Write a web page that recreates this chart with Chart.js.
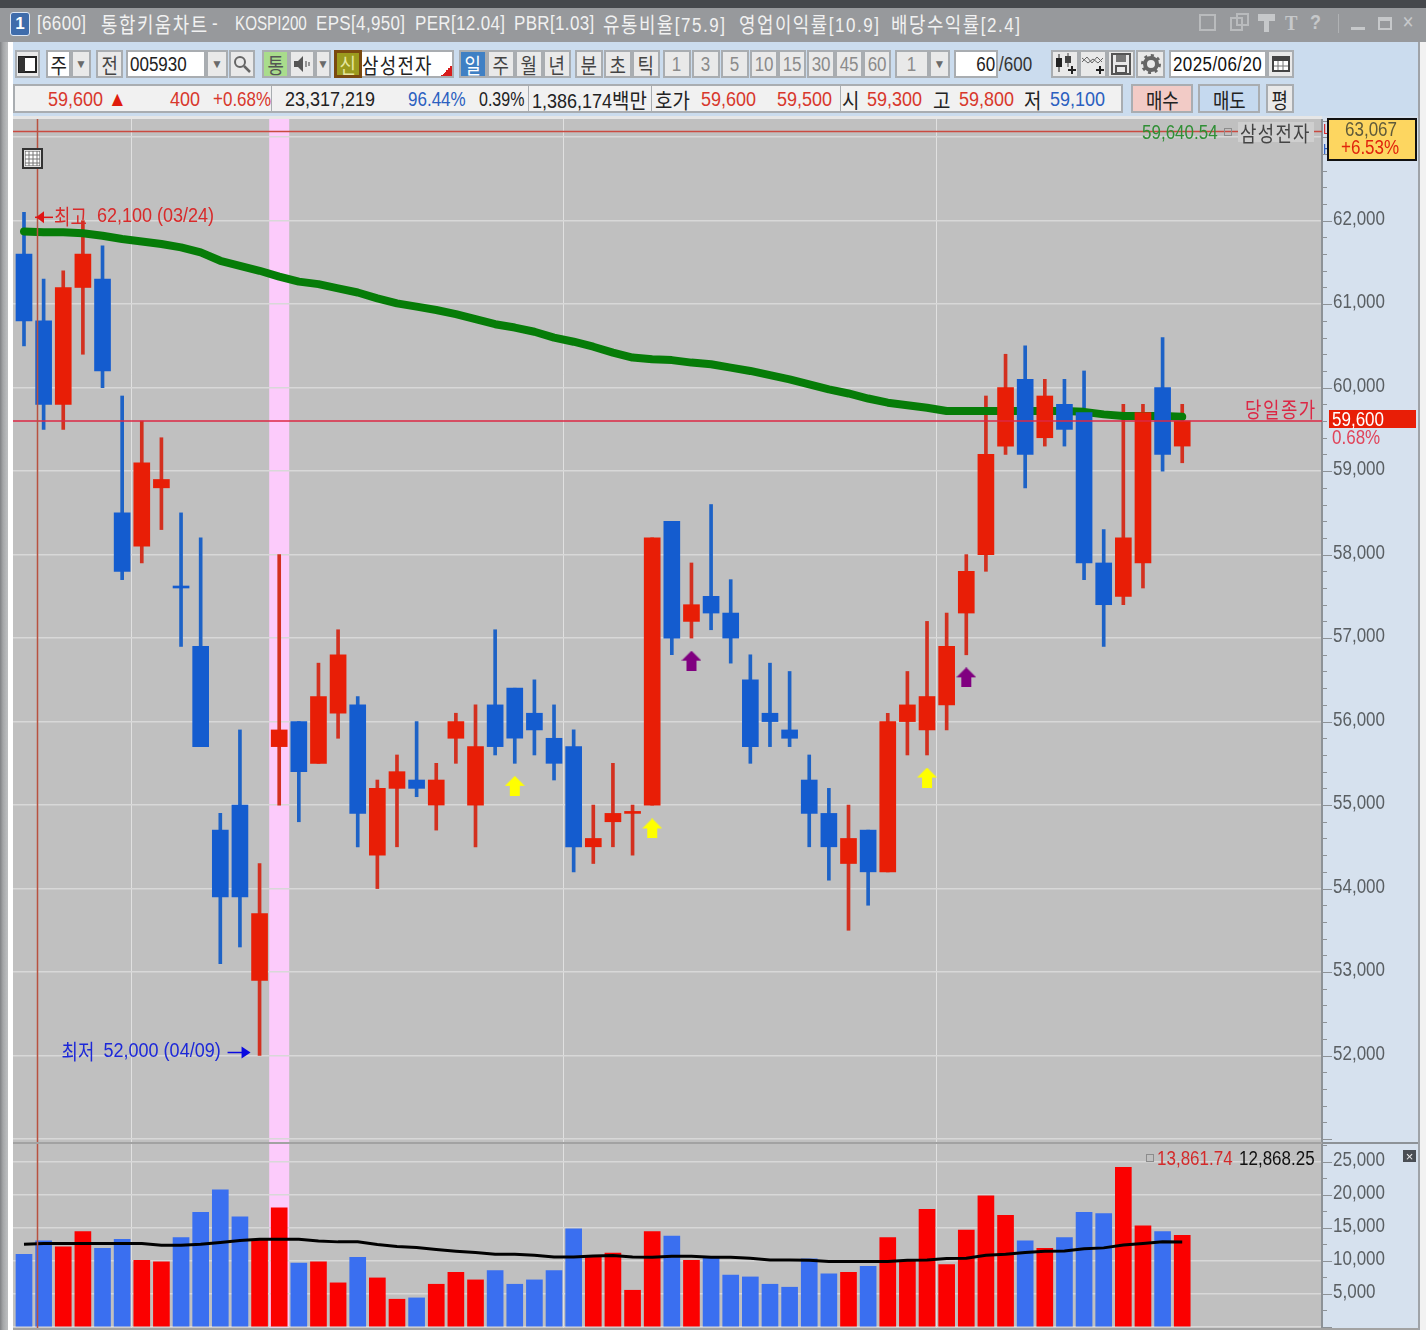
<!DOCTYPE html>
<html>
<head>
<meta charset="utf-8">
<title>삼성전자 통합키움차트</title>
<script src="https://cdn.jsdelivr.net/npm/chart.js@4/dist/chart.umd.min.js"></script>
<style>
  html, body { margin: 0; padding: 0; }
  body { width: 1426px; height: 1330px; position: relative; overflow: hidden; background: #cbdcee; font-family: 'Liberation Sans', 'Noto Sans CJK KR', sans-serif; }
  canvas { position: absolute; display: block; }
  #ui div, #ui svg { position: absolute; }
  .t { white-space: nowrap; font-size: 20px; line-height: 24px; transform: translateY(-12px) scaleX(.85); transform-origin: left center; }
  .ko { font-family: 'Noto Sans CJK KR', sans-serif; font-size: 21px; }
  .b { box-sizing: border-box; display: flex; align-items: center; justify-content: center; white-space: nowrap; font-size: 20px; color: #444; background: #e9e9e9; border: 2px solid #a9adb1; }
  .sq { display: inline-block; transform: scaleX(.85); }
  .w { background: #fff; color: #222; }
  .faint { color: #8b8b8b; }
</style>
</head>
<body>
<div id="ui-back"></div>
<canvas id="price-chart" width="1405" height="1023" style="left:13px;top:119px"></canvas>
<canvas id="volume-chart" width="1405" height="184" style="left:13px;top:1144px"></canvas>
<div id="ui"></div>
<script>
// trading days shown, 2025/03/24 to 2025/06/20
const dates = ['03/24','03/25','03/26','03/27','03/28','03/31','04/01','04/02','04/03','04/04','04/07','04/08','04/09','04/10','04/11','04/14','04/15','04/16','04/17','04/18','04/21','04/22','04/23','04/24','04/25','04/28','04/29','04/30','05/02','05/07','05/08','05/09','05/12','05/13','05/14','05/15','05/16','05/19','05/20','05/21','05/22','05/23','05/26','05/27','05/28','05/29','05/30','06/02','06/04','06/05','06/09','06/10','06/11','06/12','06/13','06/16','06/17','06/18','06/19','06/20'];

const opens = [61600,60800,59800,61200,61300,58500,58100,58800,57600,56900,54700,55000,52900,55700,56000,55500,56100,56200,54400,55200,55300,55000,55800,55000,56200,56400,56100,55800,55700,54500,54800,54900,55000,58400,57200,57500,57300,56500,56100,55900,55300,54900,54300,54700,54200,56000,55900,56200,57300,58000,59300,60100,59400,59800,59700,57900,57500,57900,60000,59300];
const highs = [62100,61300,61400,62000,61700,59900,59600,59400,58500,58200,54900,55900,54300,58000,56000,56700,57100,56300,55300,55600,56000,55500,56100,56200,57100,56400,56500,56200,55900,55000,55500,55000,58200,58400,57900,58600,57700,56800,56700,56600,55600,55200,55000,54700,56100,56600,57200,57300,58000,59900,60400,60500,60100,60100,60200,58300,59800,59800,60600,59800];
const lows = [60500,59500,59500,60400,60000,57700,57900,58300,56900,55700,53100,53300,52000,55000,54800,55500,55800,54500,54000,54500,55100,54700,55500,54500,55600,55500,55600,55300,54200,54300,54500,54400,55000,56800,57000,57100,56700,55500,55700,55700,54500,54100,53500,53800,54200,55600,55600,55900,56800,57800,59200,58800,59300,59300,57700,56900,57400,57600,59000,59100];
const closes = [60800,59800,61200,61600,60200,57800,59100,58900,57600,55700,53900,53900,53700,55900,55400,56300,56800,54900,55200,55400,55200,55300,56000,55700,55700,55800,55900,55500,54500,54600,54900,54900,58200,57000,57400,57300,57000,55700,56000,55800,54900,54500,54600,54200,56000,56200,56300,56900,57800,59200,60000,59200,59900,59500,57900,57400,58200,59700,59200,59600];
const priceMa = [61870,61860,61860,61850,61820,61780,61750,61720,61680,61620,61520,61460,61400,61330,61270,61240,61190,61140,61070,61010,60970,60930,60880,60820,60760,60720,60670,60600,60550,60490,60420,60360,60340,60330,60300,60280,60240,60200,60150,60100,60040,59980,59930,59870,59820,59790,59760,59720,59720,59720,59720,59720,59720,59720,59710,59680,59660,59660,59660,59650];
const volumes = [11000,13030,12120,14440,11900,13280,10100,9850,13530,17370,20750,16660,13280,18030,9650,9850,6670,10550,7420,4190,4390,6460,8280,7120,8530,6460,7120,8530,14850,10750,11200,5550,14440,13740,10100,10400,7830,7570,6460,6010,10300,8030,8280,9190,13530,10000,17830,9440,14650,19850,16920,13030,11900,13530,17370,17170,24190,15300,14440,13862];
const volumeMa = [12520,12625,12625,12625,12625,12625,12625,12370,12370,12520,12780,13080,13280,13280,13280,13030,12880,12880,12470,12170,12020,11720,11460,11260,11010,11010,10860,10600,10600,10750,10800,10600,10550,10700,10700,10550,10550,10400,10150,10150,10100,9900,9900,9900,9900,10100,10150,10350,10400,10860,11010,11260,11460,11510,11820,11970,12420,12625,12880,12868];

const dojiDown = [8];            // open == close days painted blue
const highlightDay = 13;         // pink band
const cursorDay = 0.66;          // thin red vertical
const monthBreaks = [5.5, 27.5, 46.5];
const closeLine = 59600;
const topLine = 63067;
const yellowDays = [25, 32, 46];
const yellowPrices = [55230, 54720, 55330];
const purpleDays = [34, 48];
const purplePrices = [56730, 56530];

const RED = '#e81e06', BLUE = '#145ccf', WICK_RED = '#d3301f', WICK_BLUE = '#1d62c6';
const VOL_RED = '#fb0000', VOL_BLUE = '#3a6ff0';
const LATIN = "'Liberation Sans', sans-serif";
const KO = "'Noto Sans CJK KR', sans-serif";
const SQUEEZE = 0.85;   // the screenshot's type is tall and narrow

const isUp = i => closes[i] > opens[i] || (closes[i] === opens[i] && !dojiDown.includes(i));
const fmt = v => v.toLocaleString('en-US');

function arrowImage(color) {
  const c = document.createElement('canvas');
  c.width = 20; c.height = 20;
  const g = c.getContext('2d');
  g.fillStyle = color;
  g.beginPath();
  [[10,0],[20,10],[15,10],[15,20],[5,20],[5,10],[0,10]].forEach(p => g.lineTo(p[0], p[1]));
  g.closePath();
  g.fill();
  return c;
}

function narrowText(ctx, s, x, y, squeeze) {
  ctx.save();
  ctx.translate(x, y);
  ctx.scale(squeeze || SQUEEZE, 1);
  ctx.fillText(s, 0, 0);
  ctx.restore();
}

// plot background + band + cursor, shared by both panes
const paneBack = {
  id: 'paneBack',
  beforeDraw(chart) {
    const { ctx, chartArea: a, scales: { x } } = chart;
    ctx.save();
    ctx.fillStyle = '#c0c0c0';
    ctx.fillRect(a.left, a.top, a.right - a.left, a.bottom - a.top);
    ctx.fillStyle = '#fccbfb';
    const mid = x.getPixelForValue(highlightDay);
    ctx.fillRect(mid - 10, a.top, 20, a.bottom - a.top);
    ctx.restore();
  },
  afterDatasetsDraw(chart) {
    const { ctx, chartArea: a, scales: { x } } = chart;
    const px = Math.round(x.getPixelForValue(cursorDay)) + 0.5;
    ctx.save();
    ctx.strokeStyle = '#b85240';
    ctx.lineWidth = 1.5;
    ctx.beginPath();
    ctx.moveTo(px, a.top);
    ctx.lineTo(px, a.bottom);
    ctx.stroke();
    ctx.restore();
  }
};

// right axis: short ticks, longer labelled ones, narrow labels
const axisTicks = {
  id: 'axisTicks',
  afterDraw(chart, args, opts) {
    const { ctx, chartArea: a, scales: { y } } = chart;
    ctx.save();
    ctx.strokeStyle = '#8d9297';
    ctx.fillStyle = '#5a5f63';
    ctx.lineWidth = 1;
    ctx.font = '20px ' + LATIN;
    ctx.textBaseline = 'middle';
    y.ticks.forEach(t => {
      const major = t.value % opts.major === 0;
      const p = Math.round(y.getPixelForValue(t.value)) + 0.5;
      ctx.beginPath();
      ctx.moveTo(a.right, p);
      ctx.lineTo(a.right + (major ? 10 : 5), p);
      ctx.stroke();
      if (major && p < a.bottom - 12) narrowText(ctx, fmt(t.value), a.right + 11, p - 2);
    });
    ctx.restore();
  }
};

// high / low arrows with their text
const extremes = {
  id: 'extremes',
  afterDatasetsDraw(chart) {
    const { ctx, scales: { x, y } } = chart;
    const hi = Math.max(...highs), lo = Math.min(...lows);
    const hx = x.getPixelForValue(highs.indexOf(hi)), hy = y.getPixelForValue(hi) + 5;
    const lx = x.getPixelForValue(lows.indexOf(lo)), ly = y.getPixelForValue(lo) - 3;
    ctx.save();
    ctx.textBaseline = 'middle';

    ctx.strokeStyle = ctx.fillStyle = '#e01414';
    ctx.lineWidth = 1.5;
    ctx.beginPath(); ctx.moveTo(hx + 11, hy); ctx.lineTo(hx + 29, hy); ctx.stroke();
    ctx.beginPath(); ctx.moveTo(hx + 12, hy); ctx.lineTo(hx + 20, hy - 6); ctx.lineTo(hx + 20, hy + 6); ctx.closePath(); ctx.fill();
    ctx.fillStyle = '#d82a2a';
    ctx.font = '21px ' + KO;
    narrowText(ctx, '최고', hx + 30, hy - 1);
    ctx.font = '20px ' + LATIN;
    narrowText(ctx, fmt(hi) + ' (' + dates[highs.indexOf(hi)] + ')', hx + 73, hy - 1, 0.9);

    ctx.strokeStyle = ctx.fillStyle = '#0a0ae0';
    ctx.beginPath(); ctx.moveTo(lx - 32, ly); ctx.lineTo(lx - 12, ly); ctx.stroke();
    ctx.beginPath(); ctx.moveTo(lx - 9, ly); ctx.lineTo(lx - 18, ly - 6); ctx.lineTo(lx - 18, ly + 6); ctx.closePath(); ctx.fill();
    ctx.fillStyle = '#1c28d8';
    ctx.font = '21px ' + KO;
    narrowText(ctx, '최저', lx - 198, ly - 1);
    ctx.font = '20px ' + LATIN;
    narrowText(ctx, fmt(lo) + ' (' + dates[lows.indexOf(lo)] + ')', lx - 156, ly - 1, 0.9);
    ctx.restore();
  }
};

function xScale() {
  return {
    type: 'linear',
    min: -0.56,
    max: 66.12,
    offset: false,
    afterBuildTicks: s => { s.ticks = monthBreaks.map(v => ({ value: v })); },
    afterFit: s => { s.height = 0; s.paddingLeft = s.paddingRight = 0; },
    grid: { offset: false, color: 'rgba(255,255,255,.5)', lineWidth: 1, drawTicks: false },
    border: { display: false },
    ticks: { display: false }
  };
}

function yScale(min, max, step, major) {
  return {
    type: 'linear',
    position: 'right',
    min, max,
    beginAtZero: false,
    // chart.js shifts ticks off round numbers when the range is near a multiple of the step
    afterBuildTicks: s => {
      s.ticks = [];
      for (let v = Math.ceil(min / step) * step; v <= max; v += step) s.ticks.push({ value: v });
    },
    afterFit: s => { s.width = 96; s.paddingTop = s.paddingBottom = 0; },
    grid: {
      drawTicks: false,
      lineWidth: 1.5,
      color: c => c.tick.value % major === 0 ? '#d8d8d8' : 'transparent'
    },
    border: { display: true, color: '#8d9297', width: 2 },
    ticks: { display: false, autoSkip: false }
  };
}

const days = dates.map((d, i) => i);

new Chart(document.getElementById('price-chart'), {
  type: 'bar',
  plugins: [paneBack, axisTicks, extremes],
  data: {
    datasets: [
      {
        label: '고저',
        order: 5,
        grouped: false,
        barThickness: 3,
        data: days.map(i => ({ x: i, y: [lows[i], highs[i]] })),
        backgroundColor: days.map(i => isUp(i) ? WICK_RED : WICK_BLUE)
      },
      {
        type: 'line',
        label: '이동평균',
        order: 4,
        data: days.map(i => ({ x: i, y: priceMa[i] })),
        borderColor: '#067c08',
        borderWidth: 8,
        borderCapStyle: 'round',
        borderJoinStyle: 'round',
        pointRadius: 0
      },
      {
        label: '시종',
        order: 3,
        grouped: false,
        barThickness: 16,
        minBarLength: 2,
        data: days.map(i => ({ x: i, y: [opens[i], closes[i]] })),
        backgroundColor: days.map(i => isUp(i) ? RED : BLUE)
      },
      {
        type: 'line',
        label: '당일종가',
        order: 1,
        data: [{ x: -0.56, y: closeLine }, { x: 66.12, y: closeLine }],
        borderColor: '#dc2845',
        borderWidth: 1.5,
        pointRadius: 0
      },
      {
        type: 'line',
        label: '최고가',
        order: 1,
        data: [{ x: -0.56, y: topLine }, { x: 66.12, y: topLine }],
        borderColor: '#c94a40',
        borderWidth: 1.5,
        pointRadius: 0
      },
      {
        type: 'scatter',
        label: '매수',
        order: 2,
        data: yellowDays.map((d, i) => ({ x: d, y: yellowPrices[i] })),
        pointStyle: arrowImage('#ffff00')
      },
      {
        type: 'scatter',
        label: '매도',
        order: 2,
        data: purpleDays.map((d, i) => ({ x: d, y: purplePrices[i] })),
        pointStyle: arrowImage('#800080')
      }
    ]
  },
  options: {
    responsive: false,
    animation: false,
    layout: { padding: 0, autoPadding: false },
    plugins: { legend: { display: false }, tooltip: { enabled: false }, axisTicks: { major: 1000 } },
    scales: { x: xScale(), y: yScale(50964, 63218, 200, 1000) }
  }
});

new Chart(document.getElementById('volume-chart'), {
  type: 'bar',
  plugins: [paneBack, axisTicks],
  data: {
    datasets: [
      {
        type: 'line',
        label: '거래량 이동평균',
        order: 1,
        data: days.map(i => ({ x: i, y: volumeMa[i] })),
        borderColor: '#000',
        borderWidth: 3,
        pointRadius: 0
      },
      {
        label: '거래량',
        order: 2,
        grouped: false,
        barThickness: 16,
        data: days.map(i => ({ x: i, y: volumes[i] })),
        backgroundColor: days.map(i => isUp(i) ? VOL_RED : VOL_BLUE)
      }
    ]
  },
  options: {
    responsive: false,
    animation: false,
    layout: { padding: 0, autoPadding: false },
    plugins: { legend: { display: false }, tooltip: { enabled: false }, axisTicks: { major: 5000 } },
    scales: { x: xScale(), y: yScale(-170, 27710, 2500, 5000) }
  }
});

// window chrome around the charts
const ui = document.getElementById('ui');
const back = document.getElementById('ui-back');
const hangul = s => s.replace(/[가-힣]+/g, '<span class="ko">$&</span>');

function rect(x, y, w, h, css, parent) {
  const d = document.createElement('div');
  d.style.cssText = `left:${x}px;top:${y}px;width:${w}px;height:${h}px;position:absolute;${css}`;
  (parent || ui).appendChild(d);
  return d;
}
function txt(x, y, s, color, extra) {
  const d = document.createElement('div');
  d.className = 't';
  d.style.cssText = `left:${x}px;top:${y}px;color:${color};${extra || ''}`;
  d.innerHTML = hangul(s);
  ui.appendChild(d);
  return d;
}
function btn(x, y, w, h, s, cls, css) {
  const d = document.createElement('div');
  d.className = 'b ' + (cls || '');
  css = css || '';
  d.style.cssText = `left:${x}px;top:${y}px;width:${w}px;height:${h}px;${css}`;
  if (s.startsWith('<')) {
    d.innerHTML = s;
  } else {
    const origin = css.includes('flex-start') ? 'left' : css.includes('flex-end') ? 'right' : 'center';
    d.innerHTML = `<span class="sq" style="transform-origin:${origin} center">${hangul(s)}</span>`;
  }
  ui.appendChild(d);
  return d;
}

// backdrop panels sit under the canvases
rect(0, 0, 1426, 8, 'background:#45484c', back);
rect(0, 8, 1426, 34, 'background:#97999c', back);
rect(0, 42, 8, 1288, 'background:linear-gradient(90deg,#7f8184 0,#a4a6a8 3px,#b9bbbd 7px)', back);
rect(8, 42, 5, 1288, 'background:#fff', back);
rect(1322, 116, 96, 1214, 'background:#d6e1ee', back);
rect(13, 116, 1309, 3, 'background:#e6e6e6', back);
rect(1418, 42, 2, 1288, 'background:#9fa3a8', back);
rect(1420, 42, 6, 1288, 'background:#f2f2f2', back);

// title bar
btn(10, 12, 20, 24, '<b style="color:#fff;font:bold 17px \'Liberation Sans\'">1</b>', '', 'background:#3f6cab;border:1px solid #dfe7f3;border-radius:3px');
[['[6600]',37],['통합키움차트',101],['-',212],['KOSPI200',235],['EPS[4,950]',316],['PER[12.04]',415],['PBR[1.03]',514],['유통비율[75.9]',603],['영업이익률[10.9]',739],['배당수익률[2.4]',891]]
  .forEach(p => txt(p[1], 23, p[0], '#f1f1f1', /[가-힣]/.test(p[0]) ? 'letter-spacing:1.8px' : (p[0] === 'KOSPI200' ? 'transform:translateY(-12px) scaleX(.76)' : 'letter-spacing:.4px')));
txt(1285, 22, 'T', '#c6c8ca', 'font:bold 22px "Liberation Serif"');
txt(1310, 22, '?', '#c6c8ca', 'font:bold 21px "Liberation Sans"');
txt(1402, 23, '✕', '#c6c8ca', 'font-size:17px');
rect(1199, 14, 17, 17, 'border:2px solid #b9bbbd;box-sizing:border-box');
rect(1230, 17, 13, 14, 'border:2px solid #b9bbbd;box-sizing:border-box');
rect(1236, 13, 13, 13, 'border:2px solid #b9bbbd;box-sizing:border-box');
rect(1258, 14, 17, 7, 'background:#c6c8ca');
rect(1264, 20, 5, 12, 'background:#c6c8ca');
rect(1338, 14, 1, 19, 'background:#b0b2b4');
rect(1351, 27, 14, 3, 'background:#c6c8ca');
rect(1378, 17, 14, 13, 'border:2px solid #c6c8ca;border-top-width:4px;box-sizing:border-box');

// first toolbar row
const DN = '<span style="color:#6a6a6a;font-size:12px">▼</span>';
const R1 = 50, H1 = 28;
btn(15, R1, 25, H1, '<svg width="19" height="19" viewBox="0 0 19 19" style="position:static"><rect x="1" y="2" width="17" height="15" fill="#fff" stroke="#222" stroke-width="2"/><rect x="1" y="2" width="6" height="15" fill="#333"/></svg>');
btn(46, R1, 25, H1, '주', 'w');
btn(71, R1, 20, H1, DN);
btn(96, R1, 27, H1, '전');
btn(126, R1, 80, H1, '005930', 'w', 'justify-content:flex-start;padding-left:2px');
btn(206, R1, 22, H1, DN);
btn(229, R1, 26, H1, '<svg width="18" height="18" viewBox="0 0 18 18" style="position:static"><circle cx="7" cy="7" r="5" fill="none" stroke="#666" stroke-width="2"/><path d="M11 11l6 6" stroke="#666" stroke-width="2.5"/></svg>');
btn(262, R1, 27, H1, '통', '', 'background:#a9dc8c;color:#555');
btn(289, R1, 26, H1, '<svg width="18" height="18" viewBox="0 0 18 18" style="position:static"><path d="M1 6h4l5-5v16l-5-5H1z" fill="#555"/><path d="M13 6v6M16 7v4" stroke="#777" stroke-width="1.5"/></svg>');
btn(315, R1, 16, H1, DN);
btn(334, R1, 28, H1, '신', '', 'background:#9b9a1e;border:3px solid #7a4a10;color:#e8e8a0');
btn(362, R1, 92, H1, '삼성전자', 'w', 'justify-content:flex-start;border-left:0;letter-spacing:1.5px');
rect(441, 65, 11, 11, 'background:linear-gradient(135deg,transparent 50%,#d81c1c 50%)');
btn(459, R1, 28, H1, '일', '', 'background:#3f80c4;color:#fff');
[['주',487],['월',515],['년',543]].forEach(p => btn(p[1], R1, 28, H1, p[0]));
[['분',575],['초',604],['틱',632]].forEach(p => btn(p[1], R1, 28, H1, p[0]));
[['1',663],['3',692],['5',721],['10',750],['15',778],['30',807],['45',835],['60',863]].forEach(p => btn(p[1], R1, 28, H1, p[0], 'faint'));
btn(895, R1, 34, H1, '1', 'faint');
btn(929, R1, 21, H1, DN);
btn(954, R1, 44, H1, '60', 'w', 'justify-content:flex-end;padding-right:1px');
txt(999, 64, '/600', '#333');
const ICON = 'position:static';
btn(1051, R1, 28, H1, `<svg width="24" height="22" viewBox="0 0 24 22" style="${ICON}"><rect x="3" y="5" width="6" height="9" fill="#222"/><path d="M6 1v18" stroke="#222"/><rect x="12" y="3" width="6" height="7" fill="#444"/><path d="M15 0v14" stroke="#444"/><path d="M15 17h8M19 13v8" stroke="#222" stroke-width="2"/></svg>`);
btn(1079, R1, 28, H1, `<svg width="24" height="22" viewBox="0 0 24 22" style="${ICON}"><path d="M1 9l5-5 5 6 5-6 5 5M1 5l6 5 5-4 5 4 5-5" fill="none" stroke="#666"/><path d="M15 17h8M19 13v8" stroke="#222" stroke-width="2"/></svg>`);
btn(1107, R1, 28, H1, `<svg width="20" height="22" viewBox="0 0 20 22" style="${ICON}"><path d="M1 1h18v20H1z" fill="none" stroke="#555" stroke-width="2"/><rect x="5" y="2" width="10" height="7" fill="#777"/><rect x="5" y="13" width="10" height="7" fill="none" stroke="#555" stroke-width="2"/></svg>`);
btn(1136, R1, 29, H1, `<svg width="22" height="22" viewBox="0 0 22 22" style="${ICON}"><circle cx="11" cy="11" r="6" fill="none" stroke="#666" stroke-width="4"/><circle cx="11" cy="11" r="8.5" fill="none" stroke="#666" stroke-width="3" stroke-dasharray="3 3.6"/></svg>`);
btn(1169, R1, 98, H1, '2025/06/20', 'w', 'color:#111;letter-spacing:.5px');
btn(1267, R1, 27, H1, `<svg width="18" height="16" viewBox="0 0 18 16" style="${ICON}"><rect x="1" y="1" width="16" height="14" fill="#fff" stroke="#444" stroke-width="2"/><rect x="1" y="1" width="16" height="4" fill="#444"/><path d="M6 5v9M11 5v9M2 10h14" stroke="#777"/></svg>`);

// second toolbar row, its numbers run a little wider
rect(13, 84, 1110, 29, 'background:#f1f1f1;border:2px solid #a9adb1;box-sizing:border-box');
[271, 528, 651, 840].forEach(x => rect(x, 85, 1, 27, 'background:#a9adb1'));
const R2 = 99, TR = '#d8382c', TB = '#2b5fc0', TK = '#222';
const WIDE = 'transform:translateY(-12px) scaleX(.9)';
txt(48, R2, '59,600', TR, WIDE);
txt(108, R2, '▲', '#e01c0c', 'font-size:21px;' + WIDE);
txt(170, R2, '400', TR, WIDE);
txt(213, R2, '+0.68%', TR);
txt(285, R2, '23,317,219', TK, WIDE);
txt(408, R2, '96.44%', TB);
txt(479, R2, '0.39%', TK, 'transform:translateY(-12px) scaleX(.8)');
txt(532, R2, '1,386,174백만', TK, WIDE);
txt(655, R2, '호가', TK, WIDE);
txt(701, R2, '59,600', TR, WIDE);
txt(777, R2, '59,500', TR, WIDE);
txt(842, R2, '시', TK, WIDE);
txt(867, R2, '59,300', TR, WIDE);
txt(933, R2, '고', TK, WIDE);
txt(959, R2, '59,800', TR, WIDE);
txt(1024, R2, '저', TK, WIDE);
txt(1050, R2, '59,100', TB, WIDE);
btn(1131, 84, 62, 29, '매수', '', 'background:#f2cbc6;color:#222');
btn(1198, 84, 62, 29, '매도', '', 'background:#c5d9ef;color:#222');
btn(1266, 84, 28, 29, '평', '', 'color:#222');

// overlays on the price pane
btn(22, 148, 21, 21, '<svg width="15" height="15" viewBox="0 0 15 15" style="position:static"><rect width="15" height="15" fill="#fff" stroke="#555"/><path d="M0 4h15M0 8h15M0 12h15M4 0v15M8 0v15M12 0v15" stroke="#777"/></svg>', '', 'background:#ddd;border:2px solid #333');
txt(1142, 132, '59,640.54', '#2f8f35');
rect(1224, 128, 8, 8, 'border:1px solid #8c8c8c;box-sizing:border-box');
rect(1238, 122, 76, 20, 'background:#cfcfcf');
txt(1240, 132, '삼성전자', '#444', 'letter-spacing:1.5px');
txt(1323, 129, 'L', '#d82a2a', 'font-size:15px');
txt(1323, 149, 'H', '#2b5fc0', 'font-size:15px');
rect(1327, 118, 90, 43, 'background:#fdd660;border:2px solid #111;box-sizing:border-box');
txt(1345, 129, '63,067', '#5f5a3a');
txt(1341, 147, '+6.53%', '#e0240c');
txt(1245, 408, '당일종가', '#dc2845', 'letter-spacing:1.8px');
rect(1329, 410, 87, 18, 'background:#e81e06');
txt(1332, 419, '59,600', '#fff');
txt(1332, 437, '0.68%', '#e0445a');

// pane divider and overlays on the volume pane
rect(13, 1142, 1309, 2, 'background:#a2a2a2');
rect(1322, 1142, 96, 2, 'background:#8d9297');
rect(13, 1328, 1405, 2, 'background:#a2a2a2');
rect(1146, 1154, 8, 8, 'border:1px solid #8c8c8c;box-sizing:border-box');
txt(1157, 1158, '13,861.74', '#d32a2a');
txt(1239, 1158, '12,868.25', '#111');
btn(1403, 1150, 13, 12, '<span style="color:#eee;font-size:13px">×</span>', '', 'background:#4a4e54;border:0');
</script>
</body>
</html>
